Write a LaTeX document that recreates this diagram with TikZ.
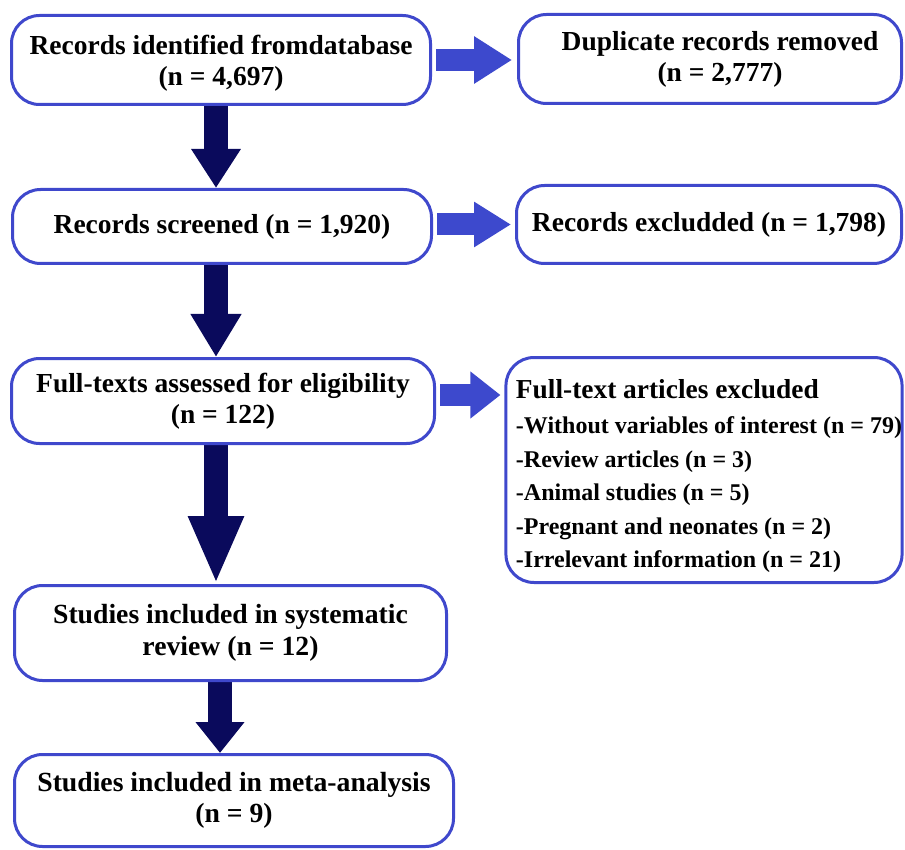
\documentclass[tikz,border=0pt]{standalone}
\usepackage{fontspec}
\setmainfont{Liberation Serif}
\usetikzlibrary{arrows.meta,calc}
\definecolor{boxblue}{RGB}{63,72,204}
\definecolor{arrblue}{RGB}{61,73,205}
\definecolor{navy}{RGB}{10,10,92}
\pgfdeclarelayer{background}
\pgfsetlayers{background,main}
\begin{document}
\begin{tikzpicture}[x=1pt,y=-1pt,
  box/.style={draw=boxblue, line width=3pt, rounded corners=28pt, fill=white,
    align=center, inner sep=0pt, font=\bfseries\fontsize{27.5}{31}\selectfont},
  listbox/.style={draw=boxblue, line width=3pt, rounded corners=28pt, fill=white,
    align=left, inner sep=0pt, font=\bfseries\fontsize{24}{33.5}\selectfont},
  downarr/.style={draw=navy, line width=24pt, line cap=butt},
  rightarr/.style={draw=arrblue, line width=22pt, line cap=butt}]
\useasboundingbox (0,0) rectangle (905,850);

\node[box, minimum width=419pt, minimum height=89pt] (b1) at (221,60)
  {\rule{0pt}{25pt}Records identified fromdatabase\\(n = 4,697)};
\node[box, minimum width=383pt, minimum height=89pt] (b2) at (710,59)
  {\hspace*{20pt}Duplicate records removed\\\hspace*{20pt}(n = 2,777)};
\node[box, minimum width=419pt, minimum height=74pt] (b3) at (222,226.5)
  {Records screened (n = 1,920)};
\node[box, minimum width=385pt, minimum height=78pt] (b4) at (709,224.5)
  {Records excludded (n = 1,798)};
\node[box, minimum width=423pt, minimum height=85pt] (b5) at (223,401)
  {Full-texts assessed for eligibility\\(n = 122)};
\node[listbox, minimum width=395pt, minimum height=225pt] (b6) at (704,470)
  {\hspace*{10pt}\rule{0pt}{31pt}{\fontsize{27.4}{33.5}\selectfont Full-text articles excluded}\\[2pt]
   \hspace*{10pt}-Without variables of interest (n = 79)\\
   \hspace*{10pt}-Review articles (n = 3)\\
   \hspace*{10pt}-Animal studies (n = 5)\\
   \hspace*{10pt}-Pregnant and neonates (n = 2)\\
   \hspace*{10pt}-Irrelevant information (n = 21)};
\node[box, minimum width=432pt, minimum height=95pt, font=\bfseries\fontsize{27.7}{32}\selectfont] (b7) at (230.5,633)
  {Studies included in systematic\\review (n = 12)};
\node[box, minimum width=439pt, minimum height=92pt, font=\bfseries\fontsize{27.7}{31}\selectfont] (b8) at (234,800.5)
  {Studies included in meta-analysis\\(n = 9)};

\coordinate (ax) at (216,0);
\coordinate (ax4) at (220,0);
\coordinate (ay3) at (0,395);

\begin{pgfonlayer}{background}
\draw[downarr, -{Triangle[length=39pt,width=47pt]}] (b1.south -| ax) -- (b3.north -| ax);
\draw[downarr, -{Triangle[length=43pt,width=48pt]}] (b3.south -| ax) -- (b5.north -| ax);
\draw[downarr, -{Triangle[length=68pt,width=51pt]}] (b5.south -| ax) -- (b7.north -| ax);
\draw[downarr, -{Triangle[length=31pt,width=47pt]}] (b7.south -| ax4) -- (b8.north -| ax4);
\draw[rightarr, -{Triangle[length=38pt,width=45pt]}, shorten <=4pt, shorten >=5pt]
  (b1.east) -- (b2.west |- b1.east);
\draw[rightarr, -{Triangle[length=37pt,width=43pt]}, shorten <=4pt, shorten >=4pt]
  (b3.east |- b4.west) -- (b4.west);
\draw[rightarr, -{Triangle[length=30pt,width=45pt]}, shorten <=4pt, shorten >=4pt]
  (b5.east |- ay3) -- (b6.west |- ay3);
\end{pgfonlayer}
\end{tikzpicture}
\end{document}
